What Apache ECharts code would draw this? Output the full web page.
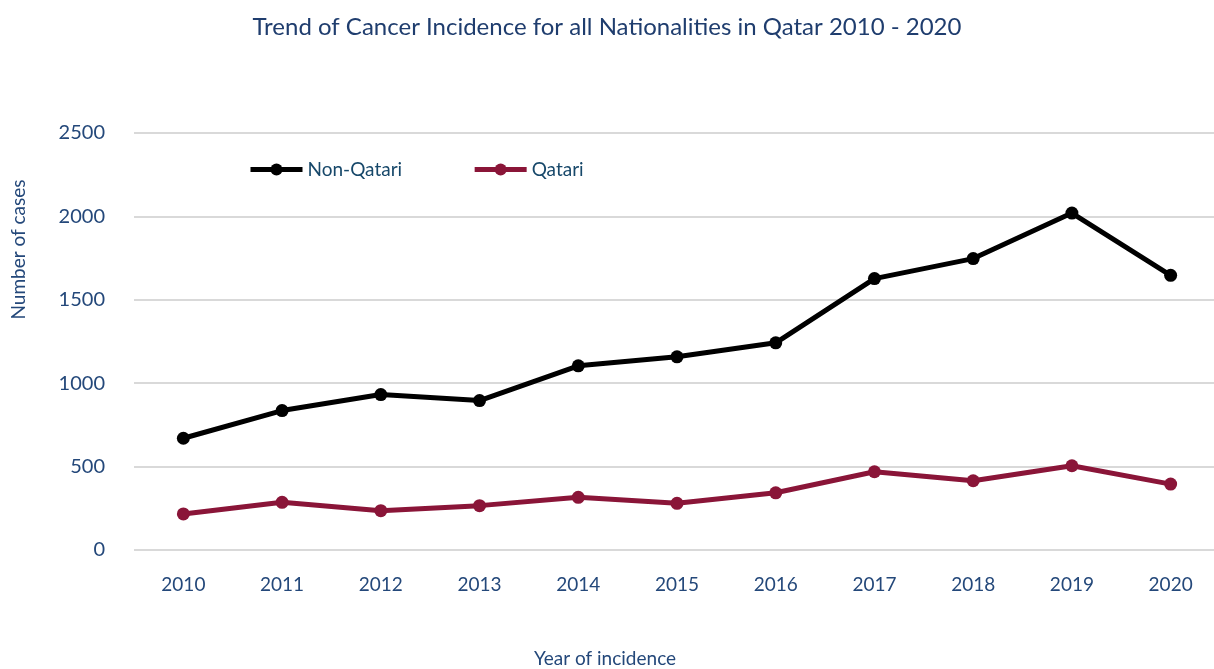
<!DOCTYPE html>
<html>
<head>
<meta charset="utf-8">
<script src="https://cdn.jsdelivr.net/npm/echarts@6/dist/echarts.min.js"></script>
<style>
  html, body { margin: 0; padding: 0; background: #fff; }
  #chart { width: 1214px; height: 669px; }
</style>
</head>
<body>
<div id="chart"></div>
<script>
// 数据
const years = ["2010", "2011", "2012", "2013", "2014", "2015", "2016", "2017", "2018", "2019", "2020"];
const nonQatari = [670, 836, 932, 896, 1104, 1158, 1242, 1627, 1747, 2020, 1647];
const qatari = [216, 286, 236, 266, 316, 280, 343, 469, 415, 505, 395];
const yTicks = [0, 500, 1000, 1500, 2000, 2500];

const textBlue = "#24487a";
const font = "Lato";

const myChart = echarts.init(document.getElementById("chart"));
myChart.setOption({
  animation: false,
  title: {
    text: "Trend of Cancer Incidence for all Nationalities in Qatar 2010 - 2020",
    left: "center",
    top: 10,
    textStyle: { fontFamily: font, fontWeight: "normal", fontSize: 24, color: "#1f3d6e" },
  },
  // 图例
  legend: {
    left: 248,
    top: 160,
    padding: 0,
    itemWidth: 52,
    itemHeight: 15,
    itemGap: 70,
    data: ["Non-Qatari", "Qatari"],
    lineStyle: { width: 5 },
    textStyle: { fontFamily: font, fontSize: 19, color: "#17486a" },
  },
  grid: {
    left: 134,
    top: 133,
    width: 1086,
    height: 417,
    outerBoundsMode: "none",
  },
  xAxis: {
    type: "category",
    data: years,
    boundaryGap: true,
    name: "Year of incidence",
    nameLocation: "middle",
    nameGap: 99,
    nameTextStyle: { fontFamily: font, fontSize: 19, color: textBlue, padding: [0, 144, 0, 0] },
    axisLine: { show: false },
    axisTick: { show: false },
    axisLabel: { fontFamily: font, fontSize: 19, color: textBlue, margin: 25 },
  },
  yAxis: {
    type: "value",
    min: 0,
    max: 2500,
    interval: 500,
    name: "Number of cases",
    nameLocation: "middle",
    nameGap: 106,
    nameTextStyle: { fontFamily: font, fontSize: 19, color: textBlue, padding: [0, 0, 0, 184] },
    axisLine: { show: false },
    axisTick: { show: false },
    axisLabel: {
      fontFamily: font,
      fontSize: 20,
      color: textBlue,
      margin: 29,
      verticalAlign: "middle",
      padding: [0, 0, 8, 0],
      formatter: (v) => (yTicks.includes(v) ? String(v) : ""),
    },
    splitLine: { lineStyle: { color: "#d9d9d9", width: 2 } },
  },
  series: [
    {
      name: "Non-Qatari",
      type: "line",
      data: nonQatari,
      symbol: "circle",
      symbolSize: 13,
      lineStyle: { width: 5, color: "#000000" },
      itemStyle: { color: "#000000" },
    },
    {
      name: "Qatari",
      type: "line",
      data: qatari,
      symbol: "circle",
      symbolSize: 13,
      lineStyle: { width: 5, color: "#8a1538" },
      itemStyle: { color: "#8a1538" },
    },
  ],
});
</script>
</body>
</html>
